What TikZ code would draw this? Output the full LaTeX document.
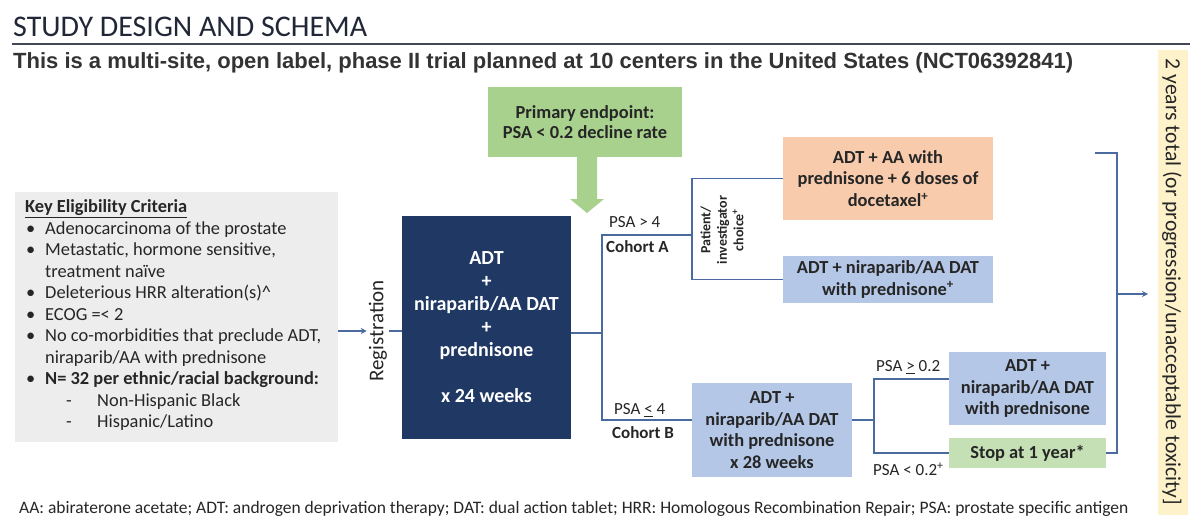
\documentclass[tikz,border=0pt]{standalone}
\usepackage{fontspec}
\setmainfont{Carlito}
\newfontfamily\arialfont{Liberation Sans}
\usetikzlibrary{arrows.meta}
\definecolor{navy}{HTML}{1F3864}
\definecolor{grayfill}{HTML}{EDEDED}
\definecolor{bluefill}{HTML}{B4C7E7}
\definecolor{orangefill}{HTML}{F8CBAD}
\definecolor{greenA}{HTML}{A9D18E}
\definecolor{greenB}{HTML}{C5E0B4}
\definecolor{yellowfill}{HTML}{FEF2CB}
\definecolor{linec}{HTML}{4A6AA0}
\definecolor{titlec}{HTML}{222738}
\definecolor{subc}{HTML}{333333}
\definecolor{txtc}{HTML}{262626}
\begin{document}
\begin{tikzpicture}[x=1pt,y=-1pt,
  txt/.style={inner sep=0pt, text=txtc, font=\fontsize{18.4}{21.4}\selectfont},
  lbl/.style={inner sep=0pt, text=txtc, anchor=base west, font=\fontsize{17}{20}\selectfont},
  lblb/.style={lbl, font=\bfseries\fontsize{17}{20}\selectfont},
  boxs/.style={inner sep=0pt, align=center, text=txtc, font=\bfseries\fontsize{18.4}{21.4}\selectfont},
  conn/.style={draw=linec, line width=1.5pt},
  arr/.style={conn, -{Stealth[length=6pt,width=6pt]}}]
\useasboundingbox (0,0) rectangle (1200,522);
\fill[white] (0,0) rectangle (1200,522);

% title
\node[anchor=base west, inner sep=0pt, text=titlec, font=\fontsize{30}{36}\selectfont] (title) at (13,36) {STUDY DESIGN AND SCHEMA};
\draw[titlec!85, line width=2.2pt] (12,44) -- (1190,44);
\node[anchor=base west, inner sep=0pt, text=subc, font=\arialfont\bfseries\fontsize{22}{26}\selectfont] (sub) at (13,68.5) {This is a multi-site, open label, phase II trial planned at 10 centers in the United States (NCT06392841)};

% yellow band
\node[fill=yellowfill, minimum width=30pt, minimum height=465pt, inner sep=0pt] (band) at (1173,282.5) {};
\node[rotate=-90, inner sep=0pt, text=txtc, font=\fontsize{21.6}{25}\selectfont] (bandtxt) at (1172,282) {2 years total (or progression/unacceptable toxicity]};

% eligibility box
\node[fill=grayfill, minimum width=323pt, minimum height=250pt, inner sep=0pt, anchor=north west] (elig) at (15,192) {};
\node[txt, anchor=base west] (e0) at (25,212.5) {\textbf{\underline{Key Eligibility Criteria}}};
\node[txt, anchor=base west] (e1) at (26,234) {\makebox[19pt][l]{•}Adenocarcinoma of the prostate};
\node[txt, anchor=base west] (e2) at (26,255.5) {\makebox[19pt][l]{•}Metastatic, hormone sensitive,};
\node[txt, anchor=base west] (e3) at (45,277) {treatment naïve};
\node[txt, anchor=base west] (e4) at (26,298.5) {\makebox[19pt][l]{•}Deleterious HRR alteration(s)\textasciicircum};
\node[txt, anchor=base west] (e5) at (26,320) {\makebox[19pt][l]{•}ECOG =< 2};
\node[txt, anchor=base west] (e6) at (26,341.5) {\makebox[19pt][l]{•}No co-morbidities that preclude ADT,};
\node[txt, anchor=base west] (e7) at (45,363) {niraparib/AA with prednisone};
\node[txt, anchor=base west] (e8) at (26,384.5) {\makebox[19pt][l]{•}\textbf{N= 32 per ethnic/racial background:}};
\node[txt, anchor=base west] (e9) at (66,406) {\makebox[31pt][l]{-}Non-Hispanic Black};
\node[txt, anchor=base west] (e10) at (66,427.5) {\makebox[31pt][l]{-}Hispanic/Latino};

% registration
\node[rotate=90, inner sep=2pt, text=txtc, font=\fontsize{21}{25}\selectfont] (reg) at (378,331) {Registration};

% main box
\node[fill=navy, minimum width=169pt, minimum height=223pt, inner sep=0pt, align=center, text=white,
  font=\bfseries\fontsize{20}{23}\selectfont] (main) at (486.5,327.5)
  {ADT\\+\\niraparib/AA DAT\\+\\prednisone\\[23pt]x 24 weeks};

\draw[arr] (elig.east |- reg) -- (reg.north);
\draw[conn] (reg.south) -- (main.west |- reg);

% primary endpoint
\node[fill=greenA, minimum width=194pt, minimum height=70pt, boxs, font=\bfseries\fontsize{18.4}{20.5}\selectfont] (pe) at (585,122) {Primary endpoint:\\PSA < 0.2 decline rate};
\fill[greenA] (577,157) -- (597,157) -- (597,199) -- (604,199) -- (587,213) -- (570,199) -- (577,199) -- cycle;

% split
\coordinate (split) at (602,333);
\coordinate (ca) at (602,235);
\coordinate (cb) at (602,420);
\coordinate (chx) at (692,0);

% cohort boxes
\node[fill=orangefill, minimum width=210pt, minimum height=83pt, boxs] (orange) at (888,178.5) {ADT + AA with\\prednisone + 6 doses of\\docetaxel\textsuperscript{+}};
\node[fill=bluefill, minimum width=210pt, minimum height=47pt, boxs] (blue1) at (888,279.5) {ADT + niraparib/AA DAT\\with prednisone\textsuperscript{+}};
\node[fill=bluefill, minimum width=160pt, minimum height=94pt, boxs] (cohB) at (772,430) {ADT +\\niraparib/AA DAT\\with prednisone\\x 28 weeks};
\node[fill=bluefill, minimum width=157pt, minimum height=73pt, boxs] (blue2) at (1027.5,388.5) {ADT +\\niraparib/AA DAT\\with prednisone};
\node[fill=greenB, minimum width=157pt, minimum height=30pt, boxs] (stop) at (1027.5,453) {Stop at 1 year*};

\node[rotate=90, inner sep=0pt, align=center, text=txtc, font=\bfseries\fontsize{14}{16.5}\selectfont] (choice) at (722,230) {Patient/\\investigator\\choice\textsuperscript{+}};

% connectors
\draw[conn] (main.east |- split) -- (split);
\draw[conn] (ca -| chx) -- (ca) -- (cb) -- (cohB.west |- cb);
\draw[conn] (orange.west) -- (orange.west -| chx) -- (blue1.west -| chx) -- (blue1.west);

\coordinate (bsplit) at (874,420);
\coordinate (bt) at (874,379);
\coordinate (bb) at (874,453);
\draw[conn] (cohB.east |- bsplit) -- (bsplit);
\draw[conn] (blue2.west |- bt) -- (bt) -- (bb) -- (stop.west);

\coordinate (rt) at (1095,153);
\coordinate (rx) at (1117,0);
\coordinate (rm) at (1117,294);
\coordinate (rend) at (1148,294);
\draw[conn] (rt) -- (rt -| rx) -- (stop.east -| rx) -- (stop.east);
\draw[arr] (rm) -- (rend);

% labels
\node[lbl] (l1) at (609,227.5) {PSA > 4};
\node[lblb] (l2) at (606,252.5) {Cohort A};
\node[lbl] (l3) at (614,414.5) {PSA \underline{<} 4};
\node[lblb] (l4) at (612,438.5) {Cohort B};
\node[lbl] (l5) at (876,371.5) {PSA \underline{>} 0.2};
\node[lbl] (l6) at (873,475.5) {PSA < 0.2\textsuperscript{+}};

% footer
\node[anchor=base west, inner sep=0pt, text=txtc, font=\fontsize{17.5}{20}\selectfont] (foot) at (19,513) {AA: abiraterone acetate; ADT: androgen deprivation therapy; DAT: dual action tablet; HRR: Homologous Recombination Repair; PSA: prostate specific antigen};
\end{tikzpicture}
\end{document}
